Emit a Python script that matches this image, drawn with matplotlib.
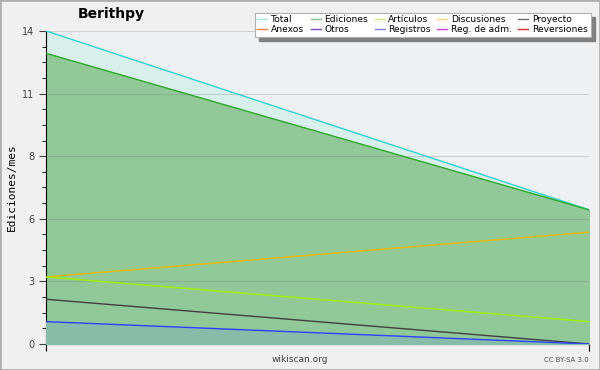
import numpy as np
import matplotlib
matplotlib.use('Agg')
import matplotlib.pyplot as plt
from matplotlib.lines import Line2D
from matplotlib.patches import Rectangle
from matplotlib.ticker import FixedLocator, MultipleLocator

# months (two points, no visible labels)
months = [0, 1]
total = [14.0, 6.0]
ediciones = [13.0, 6.0]
articulos = [3.0, 1.0]
discusiones = [3.0, 5.0]
proyecto = [2.0, 0.0]
registros = [1.0, 0.0]

legend_names = ['Total', 'Ediciones', 'Artículos', 'Discusiones', 'Proyecto',
                'Anexos', 'Otros', 'Registros', 'Reg. de adm.', 'Reversiones']
legend_colors = ['#a8e4e4', '#80c888', '#d4f070', '#ffd880', '#707070',
                 '#ff8040', '#8040d0', '#8080ff', '#d040e0', '#e03030']

fig = plt.figure(figsize=(6, 3.7), dpi=100, facecolor='#f0f0f0')
fig.patches.append(Rectangle((0, 0), 1, 1, transform=fig.transFigure, fill=False,
                             edgecolor='#b0b0b0', linewidth=2))
ax = fig.add_axes([0.0767, 0.0703, 0.905, 0.846])
ax.set_facecolor('#eff0f2')

ax.fill_between(months, total, color='#d8f0ec', zorder=1)
ax.fill_between(months, ediciones, color='#90c898', zorder=2)
ax.fill_between(months, registros, color='#88bca8', zorder=3)
ax.plot(months, total, color='#30d0d0', lw=1, zorder=5)
ax.plot(months, ediciones, color='#30a830', lw=1, zorder=5)
ax.plot(months, discusiones, color='#f0b800', lw=1, zorder=5)
ax.plot(months, articulos, color='#a0f000', lw=1, zorder=5)
ax.plot(months, proyecto, color='#404040', lw=1, zorder=5)
ax.plot(months, registros, color='#3040ff', lw=1, zorder=5)

ax.set_xlim(0, 1)
ax.set_ylim(0, 14)
yt = [0, 2.8, 5.6, 8.4, 11.2, 14]
ax.yaxis.set_major_locator(FixedLocator(yt))
ax.set_yticklabels([str(round(v)) for v in yt])
ax.yaxis.set_minor_locator(MultipleLocator(0.7))
ax.grid(axis='y', color='#808080', alpha=0.3, lw=0.8, zorder=4)
ax.set_axisbelow(False)
ax.tick_params(axis='y', which='major', length=5, labelsize=7, colors='#404040')
ax.tick_params(axis='y', which='minor', length=3)
ax.set_xticks([0, 1])
ax.set_xticklabels(['', ''])
ax.tick_params(axis='x', length=5)
for s in ['top', 'right']:
    ax.spines[s].set_visible(False)
ax.set_ylabel('Ediciones/mes', fontsize=8, family='DejaVu Sans Mono')

fig.text(0.185, 0.962, 'Berithpy', fontsize=10, fontweight='bold', ha='center', va='center')
fig.text(0.5, 0.028, 'wikiscan.org', fontsize=6.5, ha='center', va='center', color='#404040')
fig.text(0.982, 0.028, 'CC BY-SA 3.0', fontsize=5, ha='right', va='center', color='#505050')

handles = [Line2D([], [], color=c, lw=1) for c in legend_colors]
# reorder so that rows read left to right
order = []
for col in range(5):
    order += [col, col + 5]
leg = fig.legend([handles[i] for i in order], [legend_names[i] for i in order],
                 ncol=5, loc='upper right', bbox_to_anchor=(0.992, 0.978),
                 fontsize=6.6, frameon=True, fancybox=False, shadow=False,
                 handlelength=1.1, handletextpad=0.4, columnspacing=0.7,
                 labelspacing=0.05, borderpad=0.3, framealpha=1)
leg.get_frame().set_edgecolor('#b0b0b0')
leg.get_frame().set_facecolor('white')
leg.get_frame().set_linewidth(0.8)
fig.canvas.draw()
bb = leg.get_window_extent().transformed(fig.transFigure.inverted())
fig.patches.append(Rectangle((bb.x0 + 0.007, bb.y0 - 0.011), bb.width, bb.height,
                             transform=fig.transFigure, color='#808080', zorder=4))
leg.set_zorder(5)

fig.savefig('out.png', dpi=100, facecolor=fig.get_facecolor())
